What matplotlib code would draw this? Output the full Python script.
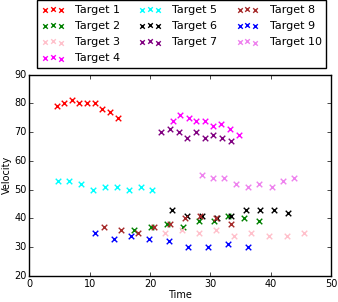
import matplotlib
matplotlib.use('Agg')
import matplotlib.pyplot as plt

plt.style.use('classic')

labels = ['Target %d' % i for i in range(1, 11)]
colors = ['red', 'green', 'pink', 'magenta', 'cyan',
          'black', 'purple', 'brown', 'blue', 'violet']

t1 = [4.6, 5.8, 7.05, 8.25, 9.5, 10.8, 12.1, 13.35, 14.7]
v1 = [79, 80, 81, 80, 80, 80, 78, 77, 75]
t2 = [17.4, 20.15, 22.75, 25.5, 28.05, 30.6, 33.0, 35.6, 38.1]
v2 = [36, 37, 38, 37, 39, 39, 41, 40, 39]
t3 = [22.5, 25.3, 28.2, 31.0, 33.95, 36.8, 39.8, 42.7, 45.6]
v3 = [35, 36, 35, 36, 34, 35, 34, 34, 35]
t4 = [23.75, 25.0, 26.4, 27.7, 29.1, 30.5, 31.8, 33.25, 34.7]
v4 = [74, 76, 75, 74, 74, 72, 73, 71, 69]
t5 = [4.7, 6.6, 8.55, 10.5, 12.5, 14.45, 16.45, 18.45, 20.4]
v5 = [53, 53, 52, 50, 51, 51, 50, 51, 50]
t6 = [23.7, 26.2, 28.55, 31.1, 33.5, 35.9, 38.2, 40.6, 42.9]
v6 = [43, 41, 41, 40, 41, 43, 43, 43, 42]
t7 = [21.85, 23.25, 24.75, 26.15, 27.6, 29.05, 30.5, 31.95, 33.45]
v7 = [70, 71, 70, 68, 70, 68, 69, 68, 67]
t8 = [12.4, 15.15, 18.0, 20.7, 23.3, 25.8, 28.3, 30.9, 33.5]
v8 = [37, 36, 35, 37, 38, 40, 41, 40, 38]
t9 = [10.9, 13.95, 16.9, 19.9, 23.1, 26.3, 29.7, 32.95, 36.3]
v9 = [35, 33, 34, 33, 32, 30, 30, 31, 30]
t10 = [28.65, 30.5, 32.35, 34.25, 36.25, 38.15, 40.15, 42.05, 43.85]
v10 = [55, 54, 54, 52, 51, 52, 51, 53, 54]

times = [t1, t2, t3, t4, t5, t6, t7, t8, t9, t10]
vels = [v1, v2, v3, v4, v5, v6, v7, v8, v9, v10]

fig = plt.figure(figsize=(3.38, 3.02), dpi=100, facecolor='white')
ax = fig.add_axes([0.087, 0.086, 0.892, 0.667])

for t, v, c, lab in zip(times, vels, colors, labels):
    ax.scatter(t, v, marker='x', color=c, s=16, linewidths=1.0, label=lab)

ax.set_xlim(0, 50)
ax.set_ylim(20, 90)
ax.set_xlabel('Time', fontsize=7, labelpad=1)
ax.set_ylabel('Velocity', fontsize=7, labelpad=2)
ax.tick_params(labelsize=7, pad=2, length=3)

leg = ax.legend(loc='lower center', bbox_to_anchor=(0.505, 1.035), ncol=3,
                fontsize=8, scatterpoints=3, borderaxespad=0,
                labelspacing=0.55, columnspacing=1.7, handletextpad=1.0,
                borderpad=0.4)
for h in leg.legend_handles:
    h.set_sizes([11])

fig.savefig('out.png', dpi=100, facecolor='white')
